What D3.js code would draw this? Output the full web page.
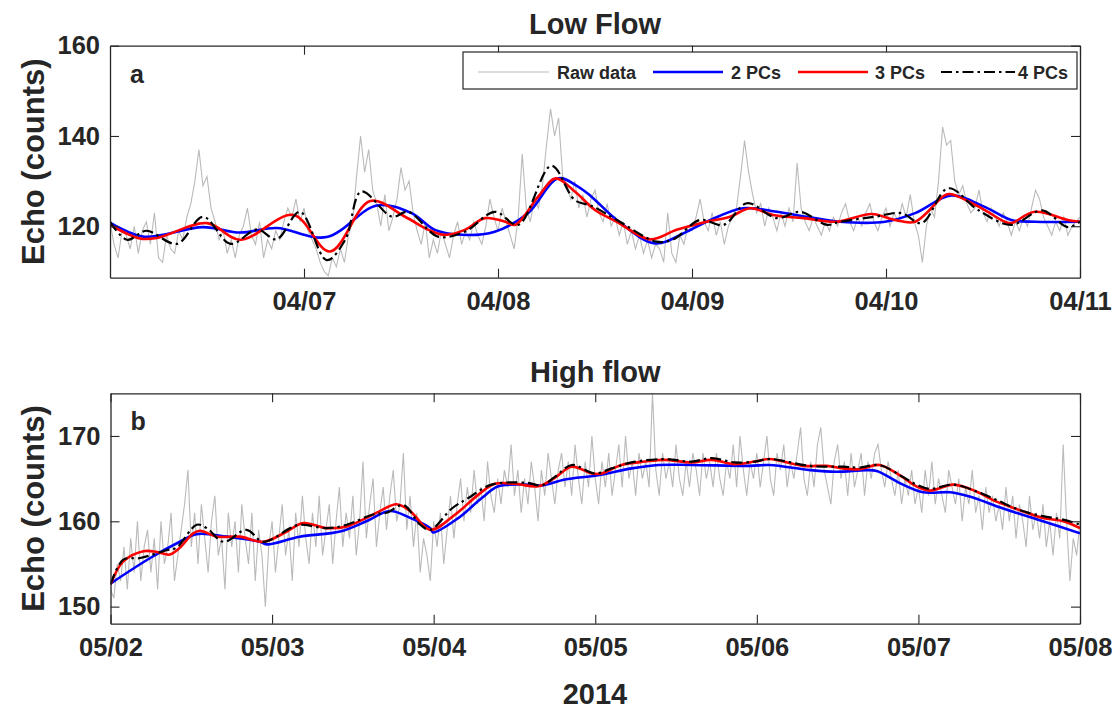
<!DOCTYPE html>
<html>
<head>
<meta charset="utf-8">
<script src="https://cdn.jsdelivr.net/npm/d3@7"></script>
<style>
  body { margin: 0; background: #fff; }
  text { font-family: "Liberation Sans", Arial, sans-serif; font-weight: bold; fill: #262626; }
</style>
</head>
<body>
<svg id="chart" width="1117" height="713"></svg>
<script>
// ---------- Panel a: Low Flow (start 2014-04-06 00:00, raw every 0.5 h) ----------
const lowStart = Date.UTC(2014, 3, 6);
const lowRawStep = 0.5;
const lowRaw = [
  121,116,113,119,118,115,120,114,119,121,116,123,113,112,118,115,114,119,117,122,125,130,137,129,
  131,124,121,117,119,114,117,113,118,120,124,118,116,121,113,117,115,119,117,121,124,122,126,121,
  124,119,117,115,112,110,109,113,111,115,112,118,121,131,140,132,137,128,125,120,127,119,122,126,
  133,128,130,123,119,116,121,113,117,114,119,116,113,118,121,116,119,117,121,118,116,120,126,122,
  119,124,121,118,115,122,136,124,121,126,124,129,138,146,140,144,131,129,126,130,124,127,122,126,
  128,123,121,125,120,122,118,121,116,119,115,118,114,117,113,116,115,112,123,114,112,118,116,120,
  119,122,126,121,119,123,118,121,116,120,122,124,131,139,132,127,123,125,120,124,122,119,123,120,
  124,121,134,124,121,119,122,120,118,121,119,122,120,123,125,121,119,122,120,123,125,121,119,122,
  124,120,123,121,125,122,127,121,118,112,120,124,122,130,142,138,139,130,127,129,125,123,124,128,
  123,121,124,122,120,123,121,118,121,119,122,120,124,128,126,122,120,118,121,119,122,118,120,121,
  122
];
const low2PC_h = [0,4.1,11.5,16.1,20.6,26.8,33,37.3,40.2,43.5,47.6,51.7,55.4,57.9,59.6,62.7,67.4,70.9,73.8,78.3,82.5,86.2,90.3,95.9,99.6,104.1,108.2,111.5,114.4,120];
const low2PC_v = [120.8,117.7,119.8,118.6,119.6,117.6,124.6,122.9,119.2,118.1,118.8,122.9,130.6,128.8,126.5,121.4,116.2,118.4,121,124,123.2,122.1,121,121,122.9,126.8,124.3,121.4,121,121];
const low3PC_h = [0,3.7,5.8,12,16.1,22.7,27.2,32.2,36.5,39.4,41.4,43.9,46.4,48.9,50.1,53,55.1,57.5,60,62.7,66.8,70.1,73.8,76.7,79.2,82,85.8,89.9,94.2,97.1,99.6,103.3,104.1,107.8,110.7,111.5,114.4,118.5,120];
const low3PC_v = [120.3,117.3,117.4,120.7,117,122.5,114.4,125.6,122.1,119.2,118.1,119.2,121.8,121,120.3,126.6,130.6,127.7,123.6,121,117.1,119.2,121,122.1,124,122.5,121.8,121,122.7,121.4,121,126.9,127.1,124,121,120.7,123.2,121.4,121];
const low4PC_h = [0,2.1,4.5,8.3,11.5,14.9,18.2,20.6,23.5,26.8,29.1,31.1,34.9,36.9,40.6,43.9,47.6,50.5,54.6,57.5,59.6,62.7,67.6,69.7,73,75.9,78.8,82.5,85.4,88.7,90.3,94.6,97.9,100.4,103.7,107.4,111.5,115.3,118.5,120];
const low4PC_v = [121,117,119,116.1,122.1,116.1,119.3,117.1,123.2,112.5,117,127.7,122.1,123.2,117.7,118.8,123.2,120.3,133.4,125.8,124.5,121.4,116.6,117.1,121.4,120.3,125.1,121.8,123.2,120.3,121,122.1,122.9,120.7,128.4,123.6,120.3,123.5,119.8,121];
const lowXTicks = ["04/07","04/08","04/09","04/10","04/11"];
const lowYTicks = [120, 140, 160];

// ---------- Panel b: High flow (start 2014-05-02 00:00, raw every 0.5 h) ----------
const highStart = Date.UTC(2014, 4, 2);
const highRawStep = 0.5;
const highRaw = [
  152,151,155,153,157,152,158,154,160,153,157,159,
  154,158,152,160,155,157,161,153,156,159,162,166,
  157,161,155,162,158,154,160,163,156,158,152,161,
  157,160,154,162,158,155,161,153,159,156,150,157,
  160,154,158,162,156,159,153,161,157,163,158,155,
  161,157,163,156,159,162,155,160,164,157,161,158,
  163,156,160,167,158,162,165,157,161,164,159,163,
  166,160,162,168,159,163,157,161,154,158,156,153,
  160,157,161,155,159,163,158,162,165,160,164,161,
  166,162,164,160,167,163,161,165,162,166,164,169,
  163,166,161,165,162,167,164,160,166,163,168,165,
  162,166,168,164,167,163,169,165,162,167,164,170,
  165,162,167,164,168,163,166,169,164,170,165,167,
  163,168,165,167,164,175,166,163,168,165,167,164,
  169,165,163,167,164,168,166,163,168,165,167,164,
  168,165,163,167,165,169,164,170,166,163,167,165,
  168,164,167,170,165,163,168,166,169,164,167,165,
  168,171,165,163,167,164,169,171,166,164,162,167,
  169,165,167,163,168,164,166,168,163,167,165,168,
  169,166,164,167,165,163,166,162,165,163,166,162,
  164,161,166,163,167,162,165,163,161,166,164,162,
  165,160,164,162,166,161,163,159,164,161,163,160,
  162,159,164,160,163,158,162,160,157,163,159,161,
  158,162,157,160,156,161,158,169,160,153,158,156,
  160
];
const high2PC_h = [0,5.9,10.3,12.8,17.3,22.2,23.2,28.1,34.1,38,41.5,44.5,47.5,47.9,51.7,55.1,57.6,61.6,64,67.5,72.4,77.4,81.4,86.3,95,97.9,103.9,107.8,112.3,113.8,117.7,120.7,124.7,127.6,132.6,138.5,144];
const high2PC_v = [152.7,155.7,157.6,158.5,158.2,157.6,157.3,158.2,158.8,160,161.2,160.4,159.2,158.7,160.4,162.7,164.1,164.3,164.2,164.9,165.4,166.2,166.6,166.6,166.5,166.6,166,165.8,166,165.9,164.3,163.4,163.4,162.9,161.5,160,158.6];
const high3PC_h = [0,1.9,4.9,6.9,8.8,10.3,12.3,13.3,15.8,19.2,22.7,26.2,28.6,32.1,35.1,38,40,42.5,44.5,47.5,51.2,54.6,57.1,60.1,63.5,66,68.5,71.5,72.9,75.9,79.4,82.3,86.3,89.3,92.7,95.7,97.9,102.9,106.4,108.8,111.3,114.2,117.2,119.7,121.7,125.2,128.6,131.6,135.1,138.5,141.5,144];
const high3PC_v = [152.6,155.3,156.5,156.4,156.1,156.9,158.6,158.9,158.2,158.2,157.6,158.8,159.8,159.2,159.4,160.4,161.2,162,161.2,159,160.8,163.1,164.4,164.4,164.1,165.1,166.4,165.6,165.6,166.6,167,167.2,166.9,167.2,166.7,167,167.3,166.5,166.5,166.2,166.1,166.6,165.4,164.1,163.6,164.3,163.5,162.3,161.3,160.4,160,159.2];
const high4PC_h = [0,1.9,4.4,8.3,9.8,12.8,14.3,16.8,20.2,22.7,26.7,28.1,32.1,35.1,39,41,43.5,46,47.5,50.7,53.1,56.6,62,64,66,68.5,72,74.4,77.4,82.3,86.3,89.3,92.7,95.7,97.9,103.9,108.8,111.3,114.2,117.7,119.7,121.7,125.2,128.6,131.6,135.1,138.5,141.5,144];
const high4PC_v = [152.6,155.5,155.7,156.6,156.9,159.6,159.2,157.6,159,157.6,159.2,159.6,159.2,159.6,160.8,161,161.9,159.6,159,161.5,162.7,164.3,164.5,164.2,165.2,166.6,165.6,166.2,166.9,167.3,167,167.4,166.9,167,167.3,166.5,166.4,166.3,166.6,165.2,164.3,163.8,164.3,163.5,162.5,161.3,160.6,160.2,159.6];
const highXTicks = ["05/02","05/03","05/04","05/05","05/06","05/07","05/08"];
const highYTicks = [150, 160, 170];

// ---------- Legend / series styling ----------
const seriesNames = ["Raw data", "2 PCs", "3 PCs", "4 PCs"];
const seriesColors = ["#bababa", "#0000ff", "#ff0000", "#000000"];

const svg = d3.select("#chart");
const ink = "#262626";
const HOUR = 3600e3;

function drawPanel(cfg) {
  const x = d3.scaleUtc()
    .domain([new Date(cfg.start), new Date(cfg.start + cfg.days * 24 * HOUR)])
    .range([cfg.x0, cfg.x1]);
  const y = d3.scaleLinear().domain(cfg.yDomain).range([cfg.y1, cfg.y0]);
  const year = 2014;
  const tickDates = cfg.xTicks.map(s => {
    const [m, d] = s.split("/").map(Number);
    return new Date(Date.UTC(year, m - 1, d));
  });

  const clipId = "clip-" + cfg.letter;
  svg.append("clipPath").attr("id", clipId).append("rect")
    .attr("x", cfg.x0).attr("y", cfg.y0)
    .attr("width", cfg.x1 - cfg.x0).attr("height", cfg.y1 - cfg.y0);

  const plot = svg.append("g").attr("clip-path", `url(#${clipId})`);
  const toDate = h => new Date(cfg.start + h * HOUR);

  // raw record
  const rawLine = d3.line().x(d => x(d[0])).y(d => y(d[1]));
  plot.append("path")
    .datum(cfg.raw.map((v, i) => [toDate(i * cfg.rawStep), v]))
    .attr("d", rawLine)
    .attr("fill", "none")
    .attr("stroke", seriesColors[0])
    .attr("stroke-width", 1.1);

  // reconstructions
  const smooth = d3.line().x(d => x(d[0])).y(d => y(d[1])).curve(d3.curveCatmullRom.alpha(0.5));
  cfg.series.forEach((s, k) => {
    const p = plot.append("path")
      .datum(s.h.map((h, i) => [toDate(h), s.v[i]]))
      .attr("d", smooth)
      .attr("fill", "none")
      .attr("stroke", seriesColors[k + 1])
      .attr("stroke-width", k === 2 ? 2.2 : 2.6);
    if (k === 2) p.attr("stroke-dasharray", "11,4,2.5,4");
  });

  // axes (box with inward ticks on all sides)
  const tick = 9;
  const style = g => {
    g.selectAll("path.domain").attr("stroke", ink).attr("stroke-width", 1.3);
    g.selectAll(".tick line").attr("stroke", ink).attr("stroke-width", 1.1);
    g.selectAll("text").attr("font-size", 25.5).attr("font-family", '"Liberation Sans", Arial, sans-serif')
      .attr("font-weight", "bold").attr("fill", ink);
  };
  svg.append("g").attr("transform", `translate(0,${cfg.y1})`)
    .call(d3.axisBottom(x).tickValues(tickDates).tickFormat(d3.utcFormat("%m/%d"))
      .tickSizeInner(-tick).tickSizeOuter(0).tickPadding(14))
    .call(style);
  svg.append("g").attr("transform", `translate(0,${cfg.y0})`)
    .call(d3.axisTop(x).tickValues(tickDates).tickFormat("")
      .tickSizeInner(-tick).tickSizeOuter(0))
    .call(style);
  svg.append("g").attr("transform", `translate(${cfg.x0},0)`)
    .call(d3.axisLeft(y).tickValues(cfg.yTicks).tickFormat(d3.format("d"))
      .tickSizeInner(-tick).tickSizeOuter(0).tickPadding(10))
    .call(style);
  svg.append("g").attr("transform", `translate(${cfg.x1},0)`)
    .call(d3.axisRight(y).tickValues(cfg.yTicks).tickFormat("")
      .tickSizeInner(-tick).tickSizeOuter(0))
    .call(style);

  // title, panel letter, y label
  svg.append("text").attr("x", (cfg.x0 + cfg.x1) / 2).attr("y", cfg.titleY)
    .attr("text-anchor", "middle").attr("font-size", 29).text(cfg.title);
  svg.append("text").attr("x", cfg.x0 + 20).attr("y", cfg.y0 + 37)
    .attr("font-size", 25).text(cfg.letter);
  svg.append("text")
    .attr("transform", `translate(44,${(cfg.y0 + cfg.y1) / 2}) rotate(-90)`)
    .attr("text-anchor", "middle").attr("font-size", 31).text("Echo (counts)");
  return { x, y };
}

drawPanel({
  x0: 110, x1: 1080, y0: 45.7, y1: 277.7,
  start: lowStart, days: 5, yDomain: [108.6, 160], yTicks: lowYTicks, xTicks: lowXTicks,
  title: "Low Flow", titleY: 34, letter: "a",
  raw: lowRaw, rawStep: lowRawStep,
  series: [{ h: low2PC_h, v: low2PC_v }, { h: low3PC_h, v: low3PC_v }, { h: low4PC_h, v: low4PC_v }]
});

drawPanel({
  x0: 110.5, x1: 1080, y0: 393.3, y1: 623.7,
  start: highStart, days: 6, yDomain: [148, 175], yTicks: highYTicks, xTicks: highXTicks,
  title: "High flow", titleY: 382, letter: "b",
  raw: highRaw, rawStep: highRawStep,
  series: [{ h: high2PC_h, v: high2PC_v }, { h: high3PC_h, v: high3PC_v }, { h: high4PC_h, v: high4PC_v }]
});

// year caption under the lower panel
svg.append("text").attr("x", 595).attr("y", 704).attr("text-anchor", "middle")
  .attr("font-size", 29).text("2014");

// legend box in panel a
const legend = svg.append("g");
legend.append("rect").attr("x", 463).attr("y", 52).attr("width", 614).attr("height", 37)
  .attr("fill", "#fff").attr("stroke", ink).attr("stroke-width", 1.2);
const legendItems = [
  { lx0: 478, lx1: 549, tx: 557 },
  { lx0: 653, lx1: 723, tx: 731 },
  { lx0: 798, lx1: 868, tx: 875 },
  { lx0: 941, lx1: 1015, tx: 1018 }
];
legendItems.forEach((it, k) => {
  const ln = legend.append("line").attr("x1", it.lx0).attr("x2", it.lx1).attr("y1", 72).attr("y2", 72)
    .attr("stroke", seriesColors[k]).attr("stroke-width", k === 0 ? 1.1 : (k === 3 ? 2.2 : 2.6));
  if (k === 3) ln.attr("stroke-dasharray", "11,4,2.5,4");
  legend.append("text").attr("x", it.tx).attr("y", 78.5).attr("font-size", 18).text(seriesNames[k]);
});
</script>
</body>
</html>
